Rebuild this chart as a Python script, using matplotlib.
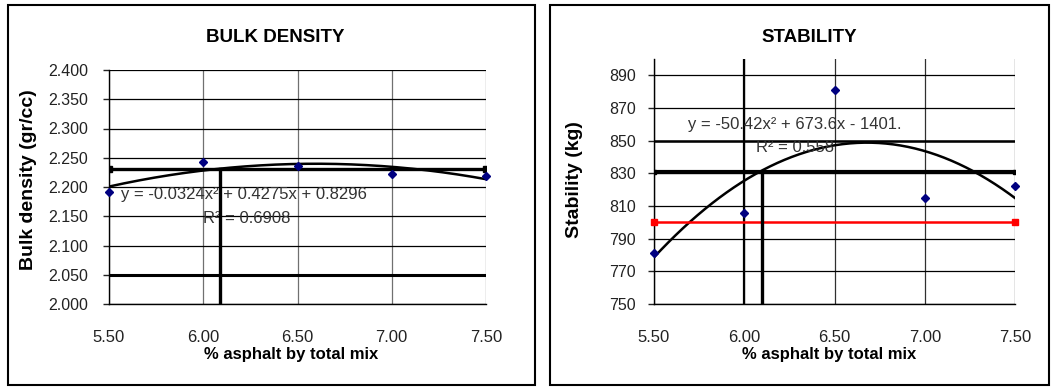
import numpy as np
import matplotlib
matplotlib.use("Agg")
import matplotlib.pyplot as plt
from matplotlib.patches import Rectangle

plt.rcParams['font.family'] = ['Liberation Sans', 'DejaVu Sans']

# asphalt content (% by total mix)
asphalt = [5.50, 6.00, 6.50, 7.00, 7.50]

# bulk density chart
density = [2.192, 2.243, 2.236, 2.222, 2.219]
density_fit = [-0.0324, 0.4275, 0.8296]
density_target = 2.231
density_limit = 2.050
density_opt = 6.09
density_ticks = [2.000, 2.050, 2.100, 2.150, 2.200, 2.250, 2.300, 2.350, 2.400]

# stability chart
stability = [781, 806, 881, 815, 822]
stability_fit = [-50.42, 673.6, -1401.0]
stability_target = 831
stability_min = 800
stability_mark = 6.00
stability_upper = 850
stability_opt = 6.10
stability_ticks = [750, 770, 790, 810, 830, 850, 870, 890]

W, H = 1051, 387
fig = plt.figure(figsize=(W / 100, H / 100), dpi=100)

# outer chart frames
for x0, x1 in [(8, 535), (550, 1049)]:
    fig.patches.append(Rectangle((x0 / W, 1 - 385 / H), (x1 - x0) / W, 380 / H,
                                 transform=fig.transFigure, fill=False,
                                 edgecolor='black', linewidth=1.5))


def base_axes(rect, ylim, yticks, fmt, ypad):
    ax = fig.add_axes(rect)
    ax.set_xlim(5.5, 7.5)
    ax.set_ylim(*ylim)
    ax.set_xticks(asphalt)
    ax.set_xticklabels(['%.2f' % v for v in asphalt])
    ax.set_yticks(yticks)
    ax.set_yticklabels([fmt % v for v in yticks])
    for s in ['top', 'right']:
        ax.spines[s].set_visible(False)
    for s in ['left', 'bottom']:
        ax.spines[s].set_linewidth(1.0)
    ax.tick_params(axis='x', length=0, pad=19, labelsize=12, colors='#222222')
    ax.tick_params(axis='y', length=4, width=1, pad=ypad, labelsize=11.5, colors='#222222')
    ax.grid(axis='y', color='black', linewidth=0.9)
    ax.grid(axis='x', color='#707070', linewidth=0.9)
    ax.set_axisbelow(True)
    return ax


# ---------------- BULK DENSITY ----------------
ax1 = base_axes([109 / W, 83 / H, 377 / W, 234 / H], (2.0, 2.4), density_ticks, '%.3f', 11)
xs = np.linspace(5.5, 7.5, 200)
ax1.plot(xs, np.polyval(density_fit, xs), color='black', linewidth=1.8, zorder=3)
ax1.plot([5.5, 7.5], [density_target] * 2, color='black', linewidth=2.4,
         marker='s', markersize=4, zorder=4)
ax1.plot([5.5, 7.5], [density_limit] * 2, color='black', linewidth=2.2, zorder=3)
ax1.plot([density_opt] * 2, [2.0, density_target], color='black', linewidth=2.4, zorder=4)
ax1.plot(asphalt, density, linestyle='none', marker='D', markersize=4,
         color='#000080', zorder=5, clip_on=False)
ax1.text(5.565, 2.188, 'y = -0.0324x² + 0.4275x + 0.8296', fontsize=12,
         color='#333333', va='center', ha='left')
ax1.text(5.999, 2.147, 'R² = 0.6908', fontsize=12, color='#333333',
         va='center', ha='left')
ax1.set_ylabel('Bulk density (gr/cc)', fontsize=14, fontweight='bold')
ax1.yaxis.set_label_coords(-0.191, 0.53)
ax1.set_xlabel('% asphalt by total mix', fontsize=12, fontweight='bold')
ax1.xaxis.set_label_coords(0.483, -0.184)
fig.text(275 / W, 1 - 37 / H, 'BULK DENSITY', fontsize=13.5, fontweight='bold',
         ha='center', va='center')

# ---------------- STABILITY ----------------
ax2 = base_axes([654 / W, 83 / H, 361 / W, 245 / H], (750, 900), stability_ticks, '%d', 9)
ax2.grid(axis='x', color='#303030', linewidth=0.9)
ax2.plot(xs, np.polyval(stability_fit, xs), color='black', linewidth=1.8, zorder=3)
ax2.plot([5.5, 7.5], [stability_upper] * 2, color='black', linewidth=1.8, zorder=3)
ax2.plot([5.5, 7.5], [stability_target] * 2, color='black', linewidth=3.0,
         marker='s', markersize=3, zorder=4)
ax2.plot([5.5, 7.5], [stability_min] * 2, color='#ff0000', linewidth=1.8,
         marker='s', markersize=5, zorder=4, clip_on=False)
ax2.plot([stability_mark] * 2, [750, 900], color='black', linewidth=1.6, zorder=3)
ax2.plot([stability_opt] * 2, [750, stability_target], color='black', linewidth=2.4, zorder=4)
ax2.plot(asphalt, stability, linestyle='none', marker='D', markersize=4,
         color='#000080', zorder=5, clip_on=False)
ax2.text(5.688, 859.6, 'y = -50.42x² + 673.6x - 1401.', fontsize=12,
         color='#333333', va='center', ha='left')
ax2.text(6.065, 846.1, 'R² = 0.558', fontsize=12, color='#333333',
         va='center', ha='left')
ax2.set_ylabel('Stability (kg)', fontsize=14, fontweight='bold')
ax2.yaxis.set_label_coords(-0.197, 0.506)
ax2.set_xlabel('% asphalt by total mix', fontsize=12, fontweight='bold')
ax2.xaxis.set_label_coords(0.485, -0.176)
fig.text(809 / W, 1 - 37 / H, 'STABILITY', fontsize=13.5, fontweight='bold',
         ha='center', va='center')

fig.savefig('out.png', dpi=100)
